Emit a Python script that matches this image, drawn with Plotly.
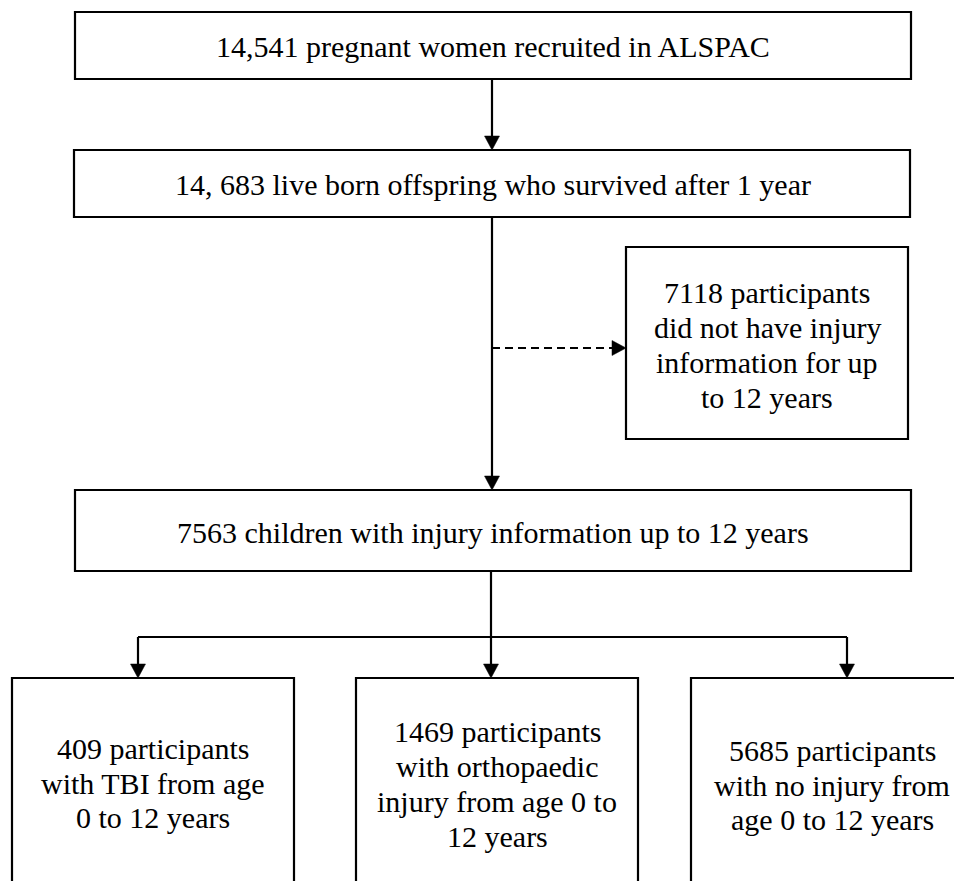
import plotly.graph_objects as go

# ---------------- content (flow-chart counts and texts) ----------------
stage_counts = [14541, 14683, 7118, 7563, 409, 1469, 5685]
stage_lines = [
    ["14,541 pregnant women recruited in ALSPAC"],
    ["14, 683 live born offspring who survived after 1 year"],
    ["7118 participants", "did not have injury", "information for up", "to 12 years"],
    ["7563 children with injury information up to 12 years"],
    ["409 participants", "with TBI from age", "0 to 12 years"],
    ["1469 participants", "with orthopaedic", "injury from age 0 to", "12 years"],
    ["5685 participants", "with no injury from", "age 0 to 12 years"],
]

# ---------------- layout geometry (page pixels) ----------------
W, H = 962, 881
OFF = 8  # default page margin of the html body
box_x0 = [75, 74, 626, 75, 12, 356, 691]
box_x1 = [911, 910, 908, 911, 294, 638, 975]
box_y0 = [12, 150, 247, 490, 678, 678, 678]
box_y1 = [79, 217, 439, 571, 910, 910, 910]
text_cx = [493, 492.5, 767, 493, 153, 497, 832]
text_cy = [46, 184, 345, 532, 783, 784, 785]
LINE_GAP = 34.7
FONT = "Liberation Serif, Times New Roman, Times, serif"
FSIZE = 30
LW = 2.2

fig = go.Figure()
# invisible trace to anchor the axes
fig.add_trace(go.Scatter(x=[OFF, W], y=[OFF, H], mode="markers",
                         marker=dict(opacity=0), hoverinfo="skip", showlegend=False))

shapes = []
annotations = []

def line(x0, y0, x1, y1, dash="solid"):
    shapes.append(dict(type="line", xref="x", yref="y", x0=x0, y0=y0, x1=x1, y1=y1,
                       line=dict(color="black", width=LW, dash=dash)))

def head_down(x, ytip, L=14, hw=7.5):
    shapes.append(dict(type="path", xref="x", yref="y",
                       path=f"M {x} {ytip} L {x-hw} {ytip-L} L {x+hw} {ytip-L} Z",
                       fillcolor="black", line=dict(color="black", width=0.5)))

def head_right(xtip, y, L=14, hw=7.5):
    shapes.append(dict(type="path", xref="x", yref="y",
                       path=f"M {xtip} {y} L {xtip-L} {y-hw} L {xtip-L} {y+hw} Z",
                       fillcolor="black", line=dict(color="black", width=0.5)))

# boxes and texts
for i, lines in enumerate(stage_lines):
    shapes.append(dict(type="rect", xref="x", yref="y",
                       x0=box_x0[i], x1=box_x1[i], y0=box_y0[i], y1=box_y1[i],
                       line=dict(color="black", width=LW), fillcolor="white", layer="below"))
    n = len(lines)
    for k, t in enumerate(lines):
        yy = text_cy[i] + (k - (n - 1) / 2) * LINE_GAP
        annotations.append(dict(x=text_cx[i], y=yy, xref="x", yref="y", text=t,
                                showarrow=False, xanchor="center", yanchor="middle",
                                font=dict(family=FONT, size=FSIZE, color="black")))

# connectors
cx = 492
line(cx, box_y1[0], cx, box_y0[1] - 12); head_down(cx, box_y0[1])
line(cx, box_y1[1], cx, box_y0[3] - 12); head_down(cx, box_y0[3])
dash_y = 348
line(cx, dash_y, box_x0[2] - 12, dash_y, dash="8px,5px"); head_right(box_x0[2], dash_y)
cx2 = 491
conn_y = 637
line(cx2, box_y1[3], cx2, box_y0[5] - 12); head_down(cx2, box_y0[5])
left_x, right_x = 138, 847
line(left_x, conn_y, right_x, conn_y)
line(left_x, conn_y, left_x, box_y0[4] - 12); head_down(left_x, box_y0[4])
line(right_x, conn_y, right_x, box_y0[6] - 12); head_down(right_x, box_y0[6])

fig.update_layout(
    width=W - OFF, height=H - OFF,
    margin=dict(l=0, r=0, t=0, b=0),
    paper_bgcolor="white", plot_bgcolor="white",
    font=dict(family=FONT),
    xaxis=dict(range=[OFF, W], visible=False, fixedrange=True),
    yaxis=dict(range=[H, OFF], visible=False, fixedrange=True),
    shapes=shapes, annotations=annotations,
    showlegend=False,
)
fig.write_html("out.html", config={"displayModeBar": False})
